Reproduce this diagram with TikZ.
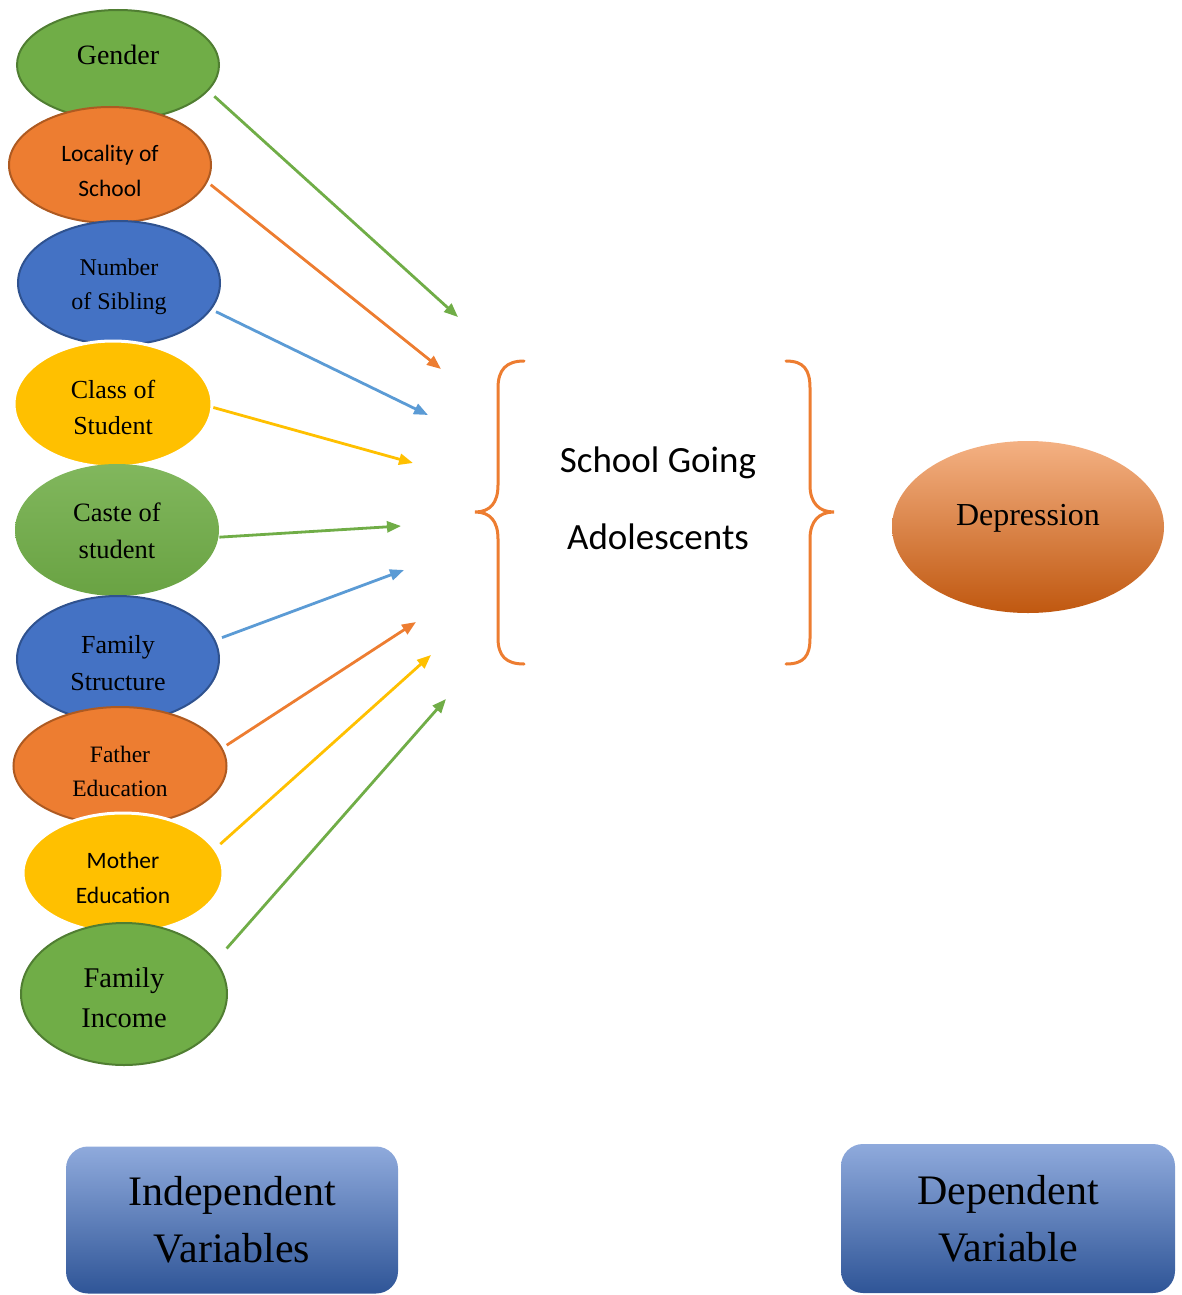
\documentclass[tikz,border=0pt]{standalone}
\usepackage{fontspec}
\setmainfont{Liberation Serif}
\newfontfamily\calfont{Carlito}
\usetikzlibrary{arrows.meta,shapes.geometric}
\definecolor{cgreen}{HTML}{70AD47}
\definecolor{dgreen}{HTML}{507E32}
\definecolor{corange}{HTML}{ED7D31}
\definecolor{dorange}{HTML}{AE5A21}
\definecolor{cblue}{HTML}{4472C4}
\definecolor{dblue}{HTML}{2F528F}
\definecolor{ablue}{HTML}{5B9BD5}
\definecolor{cyellow}{HTML}{FFC000}
\definecolor{boxtop}{HTML}{8FAADC}
\definecolor{boxbot}{HTML}{2F5597}
\definecolor{deptop}{HTML}{F4B183}
\definecolor{depbot}{HTML}{C05810}
\begin{document}
\begin{tikzpicture}[x=1pt,y=-1pt,
  oval/.style={ellipse, inner sep=0pt, line width=2pt},
  gov/.style={oval, fill=cgreen, draw=dgreen},
  oov/.style={oval, fill=corange, draw=dorange},
  bov/.style={oval, fill=cblue, draw=dblue},
  yov/.style={oval, fill=cyellow, draw=white, line width=3pt},
  txt/.style={align=center, inner sep=0pt},
  arr/.style={line width=2.8pt, -{Triangle[length=14pt,width=11pt]}},
  brace/.style={draw=corange, line width=3pt, line cap=round},
  varbox/.style={rectangle, rounded corners=22pt, minimum width=332pt, minimum height=147pt,
     top color=boxtop, middle color=cblue, bottom color=boxbot, align=center,
     font=\fontsize{42}{57}\selectfont}
]
\useasboundingbox (0,0) rectangle (1181,1295);

% ellipses
\node[gov, minimum width=202pt, minimum height=110pt] (gender) at (118,65) {};
\node[anchor=base, font=\fontsize{28}{34}\selectfont] (gendert) at (118,65) {Gender};
\node[oov, minimum width=202pt, minimum height=116pt] (loc) at (110,165) {};
\node[txt, font=\calfont\fontsize{23.5}{35}\selectfont] (loct) at (110,171) {Locality of\\School};
\node[bov, minimum width=202pt, minimum height=124pt] (sib) at (119,283) {};
\node[txt, font=\fontsize{24}{34}\selectfont] (sibt) at (119,287) {Number\\of Sibling};
\node[yov, minimum width=198pt, minimum height=126pt] (cls) at (113,404) {};
\node[txt, font=\fontsize{26}{36}\selectfont] (clst) at (113,407.5) {Class of\\Student};
\node[oval, draw=none, top color=cgreen!88!white, bottom color=cgreen!94!black, minimum width=204pt, minimum height=132pt] (cst) at (117,530) {};
\node[txt, font=\fontsize{26.5}{37}\selectfont] (cstt) at (117,531) {Caste of\\student};
\node[bov, minimum width=202pt, minimum height=126pt] (fst) at (118,659) {};
\node[txt, font=\fontsize{26}{37}\selectfont] (fstt) at (118,663) {Family\\Structure};
\node[oov, minimum width=213pt, minimum height=118pt] (fed) at (120,766) {};
\node[txt, font=\fontsize{23.5}{34}\selectfont] (fedt) at (120,771) {Father\\Education};
\node[yov, minimum width=200pt, minimum height=120pt] (med) at (123,873) {};
\node[txt, font=\calfont\fontsize{23.5}{35}\selectfont] (medt) at (123,878) {Mother\\Education};
\node[gov, minimum width=206pt, minimum height=142pt] (inc) at (124,994) {};
\node[txt, font=\fontsize{28.5}{40}\selectfont] (inct) at (124,997.5) {Family\\Income};

% arrow ends
\coordinate (e1) at (458,317);
\coordinate (e2) at (441,369);
\coordinate (e3) at (428,415);
\coordinate (e4) at (413,463);
\coordinate (e5) at (401,526);
\coordinate (e6) at (404,570);
\coordinate (e7) at (416,622);
\coordinate (e8) at (431,655);
\coordinate (e9) at (446,699);

\draw[arr, cgreen, shorten <=8pt] (gender.-16) -- (e1);
\draw[arr, corange, shorten <=4pt] (loc.-10) -- (e2);
\draw[arr, ablue, shorten <=5pt] (sib.-16) -- (e3);
\draw[arr, cyellow] (cls.-2) -- (e4);
\draw[arr, cgreen] (cst.-4) -- (e5);
\draw[arr, ablue, shorten <=7pt] (fst.11) -- (e6);
\draw[arr, corange, shorten <=5pt] (fed.10) -- (e7);
\draw[arr, cyellow, shorten <=6pt] (med.15) -- (e8);
\draw[arr, cgreen, shorten <=16pt] (inc.20) -- (e9);

% braces
\draw[brace] (524,361) .. controls (506,361) and (498,370) .. (498,388) -- (498,485)
  .. controls (498,503) and (490,512) .. (475,512)
  .. controls (490,512) and (498,521) .. (498,539) -- (498,638)
  .. controls (498,656) and (506,664) .. (524,664);
\draw[brace] (786,361) .. controls (804,361) and (810,370) .. (810,388) -- (810,485)
  .. controls (810,503) and (819,512) .. (834,512)
  .. controls (819,512) and (810,521) .. (810,539) -- (810,638)
  .. controls (810,656) and (804,664) .. (786,664);

\node[align=center, font=\calfont\fontsize{37}{77}\selectfont] (sga) at (658,498) {School Going\\Adolescents};

% dependent
\node[oval, draw=none, top color=deptop, middle color=corange, bottom color=depbot, minimum width=272pt, minimum height=172pt] (dep) at (1028,527) {};
\node[anchor=base, font=\fontsize{32}{38}\selectfont] (dept) at (1028,525) {Depression};

% boxes
\node[varbox] (indep) at (232,1220) {Independent\\Variables};
\node[varbox, minimum width=334pt, minimum height=149pt] (depv) at (1008,1218.5) {Dependent\\Variable};
\end{tikzpicture}
\end{document}
